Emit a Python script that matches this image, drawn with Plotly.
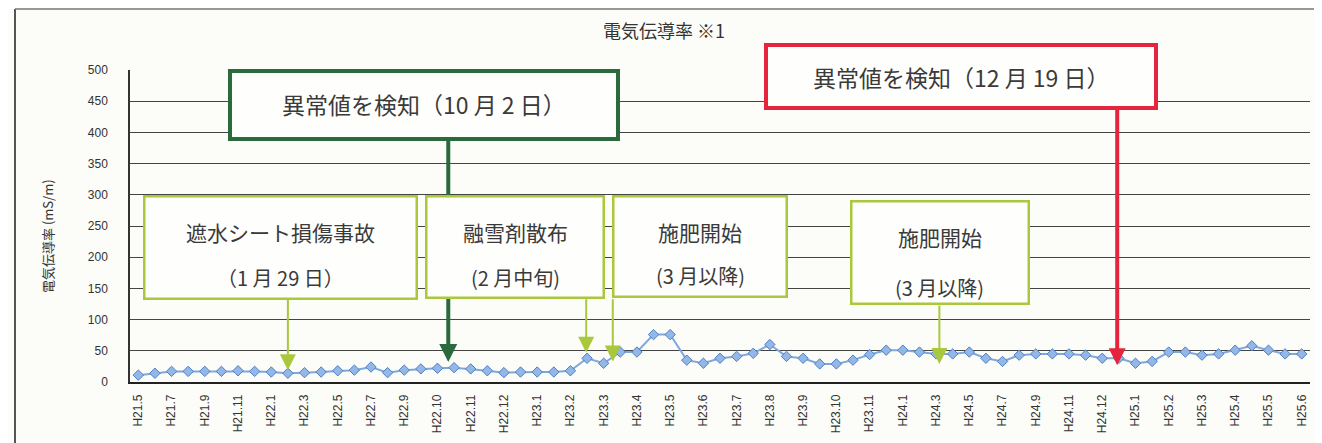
import plotly.graph_objects as go

# ---- data ----
tick_labels = ["H21.5", "H21.7", "H21.9", "H21.11", "H22.1", "H22.3", "H22.5", "H22.7",
               "H22.9", "H22.10", "H22.11", "H22.12", "H23.1", "H23.2", "H23.3", "H23.4",
               "H23.5", "H23.6", "H23.7", "H23.8", "H23.9", "H23.10", "H23.11", "H24.1",
               "H24.3", "H24.5", "H24.7", "H24.9", "H24.11", "H24.12", "H25.1", "H25.2",
               "H25.3", "H25.4", "H25.5", "H25.6"]
conductivity = [11, 14, 17, 17, 17, 17, 18, 17, 16, 14, 15, 16, 18, 19, 24, 15, 19, 21,
                22, 23, 21, 18, 15, 16, 16, 16, 18, 38, 30, 48, 48, 76, 76, 35, 30, 38,
                41, 46, 60, 41, 38, 29, 29, 35, 44, 51, 51, 48, 45, 45, 48, 38, 33, 43,
                45, 45, 45, 43, 38, 38, 30, 33, 48, 48, 43, 45, 51, 58, 51, 45, 45]
y_ticks = [0, 50, 100, 150, 200, 250, 300, 350, 400, 450, 500]

title_text = "電気伝導率 ※1"
y_title = "電気伝導率 (mS/m)"
event_red = "異常値を検知（12 月 19 日）"
event_dark = "異常値を検知（10 月 2 日）"
events_light = [("遮水シート損傷事故", "（1 月 29 日）"),
                ("融雪剤散布", "(2 月中旬)"),
                ("施肥開始", "(3 月以降)"),
                ("施肥開始", "(3 月以降)")]

# ---- layout geometry (pixels of the screenshot; page body has an 8px margin) ----
OFF = 8
W, H = 1322 - OFF, 443 - OFF
L, R, T, B = 130, 1310, 70, 382          # plot area in screenshot pixels
FONT = "Noto Sans CJK JP"
BG = "#fcfdf8"
DARK_GREEN = "#2b6a3c"
RED = "#e5253d"
LIGHT_GREEN = "#a9c83c"


def xp(px):
    return (px - L) / (R - L)


def yp(py):
    return (B - py) / (B - T)


xs = list(range(len(conductivity)))

fig = go.Figure()
fig.add_trace(go.Scatter(
    x=xs, y=conductivity, mode="lines+markers",
    line=dict(color="#7fa8dd", width=2),
    marker=dict(symbol="diamond", size=8, color="#93b7e6",
                line=dict(color="#4f7fc2", width=1)),
    showlegend=False, hoverinfo="skip"))

annotations = []

# arrows (drawn first, so boxes cover their tails)
arrow_specs = [
    # x index, tip value, tail value, color, width, size
    (18.65, 32, 395, DARK_GREEN, 4, 0.9),
    (58.9, 27, 440, RED, 4, 0.85),
    (9.0, 19, 135, LIGHT_GREEN, 2, 1.6),
    (26.95, 47, 135, LIGHT_GREEN, 2, 1.6),
    (28.55, 33, 135, LIGHT_GREEN, 2, 1.6),
    (48.2, 29, 125, LIGHT_GREEN, 2, 1.6),
]
for x, tip, tail, col, w, s in arrow_specs:
    annotations.append(dict(
        x=x, y=tip, xref="x", yref="y", ax=x, ay=tail, axref="x", ayref="y",
        text="", showarrow=True, arrowhead=2, arrowsize=s, arrowwidth=w,
        arrowcolor=col))


def box(x0, y0, x1, y1, color, bw):
    annotations.append(dict(
        x=xp((x0 + x1) / 2), y=yp((y0 + y1) / 2), xref="paper", yref="paper",
        xanchor="center", yanchor="middle", text=" ", showarrow=False,
        width=x1 - x0 - 2 * bw, height=y1 - y0 - 2 * bw, borderpad=0,
        bgcolor="#fefefc", bordercolor=color, borderwidth=bw))


def label(text, cx, cy, size, color="#3a3a3a"):
    annotations.append(dict(
        x=xp(cx), y=yp(cy), xref="paper", yref="paper",
        xanchor="center", yanchor="middle", text=text, showarrow=False,
        font=dict(family=FONT, size=size, color=color)))


# big alert boxes
box(228, 69, 620, 141, DARK_GREEN, 4)
label(event_dark, 424, 104, 23)
box(764, 43, 1158, 110, RED, 4)
label(event_red, 961, 77, 23)

# light green event boxes
light_boxes = [(143, 195, 418, 300, 232, 277),
               (425, 195, 605, 299, 232, 277),
               (612, 195, 788, 298, 232, 275),
               (850, 200, 1030, 305, 237, 287)]
for (x0, y0, x1, y1, ty1, ty2), (t1, t2) in zip(light_boxes, events_light):
    box(x0, y0, x1, y1, LIGHT_GREEN, 2.5)
    label(t1, (x0 + x1) / 2, ty1, 21)
    label(t2, (x0 + x1) / 2, ty2, 20)

# title and y title
label(title_text, 664, 30, 18, "#333")
annotations.append(dict(
    x=xp(47), y=yp(236), xref="paper", yref="paper", xanchor="center",
    yanchor="middle", text=y_title, textangle=-90, showarrow=False,
    font=dict(family=FONT, size=13, color="#333")))

shapes = [
    # scanned page frame
    dict(type="line", xref="paper", yref="paper", x0=xp(15), x1=xp(15),
         y0=yp(9), y1=yp(443), line=dict(color="#555", width=2)),
    dict(type="line", xref="paper", yref="paper", x0=xp(15), x1=xp(1322),
         y0=yp(9), y1=yp(9), line=dict(color="#777", width=1.5)),
]

fig.update_layout(
    width=W, height=H,
    margin=dict(l=L - OFF, r=(OFF + W) - R, t=T - OFF, b=(OFF + H) - B, pad=0),
    paper_bgcolor=BG, plot_bgcolor=BG,
    font=dict(family=FONT, color="#333"),
    annotations=annotations, shapes=shapes,
    xaxis=dict(range=[-0.5, len(conductivity) - 0.5],
               tickvals=list(range(0, len(conductivity), 2)),
               ticktext=tick_labels, tickangle=-90,
               tickfont=dict(family="Liberation Sans Narrow, Arial Narrow, Liberation Sans", size=12, color="#333"),
               showgrid=False, zeroline=False, showline=True,
               linecolor="#222", linewidth=1.5, ticks="", ticklabelstandoff=6,
               automargin=False),
    yaxis=dict(range=[0, 500], tickvals=y_ticks,
               tickfont=dict(family="Liberation Sans", size=12, color="#333"),
               showgrid=True, gridcolor="#444", gridwidth=1,
               zeroline=False, showline=True, linecolor="#333", linewidth=1.5,
               ticks="", ticklabelstandoff=18, automargin=False),
)

fig.write_html(
    "out.html",
    post_script="document.documentElement.style.overflow='hidden';"
                "document.body.style.overflow='hidden';")
